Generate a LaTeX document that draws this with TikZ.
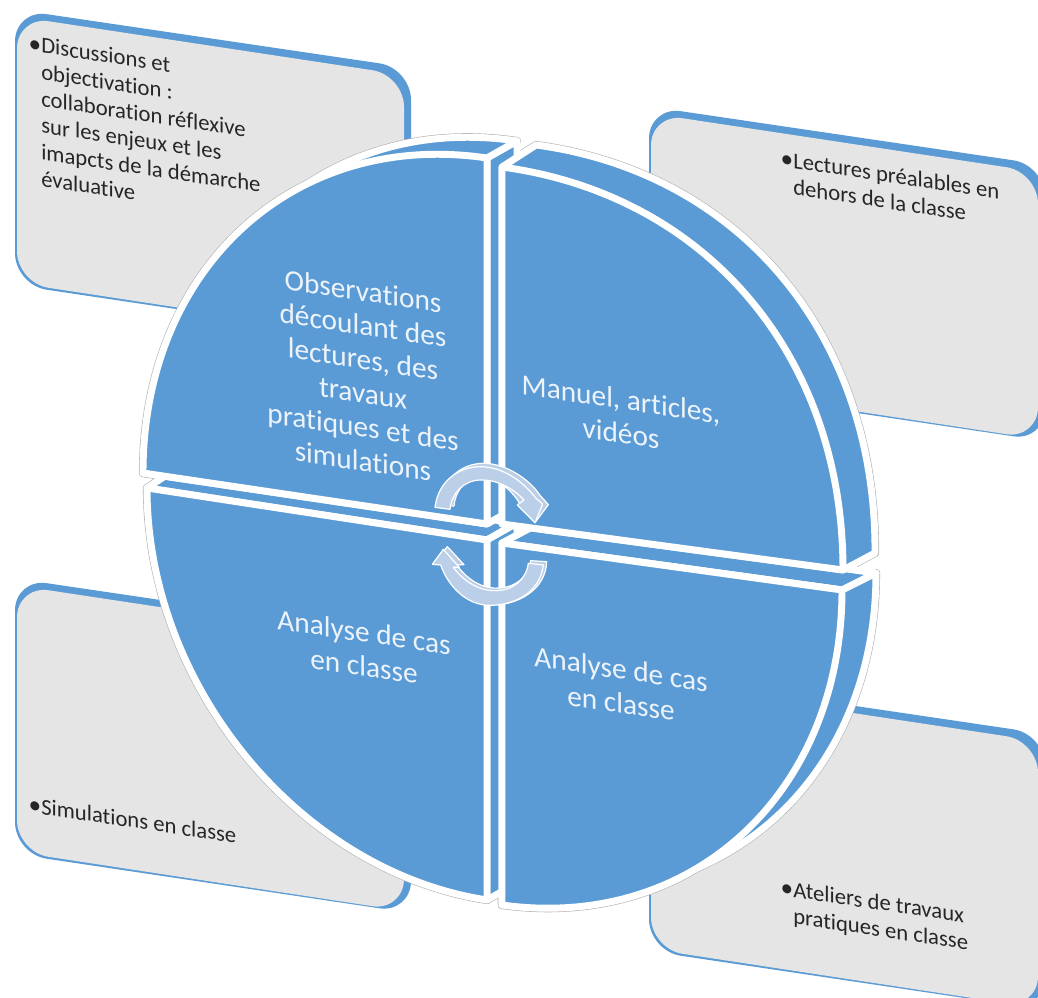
\documentclass[tikz,border=0pt]{standalone}
\usepackage{fontspec}
\setmainfont{Carlito}[RawFeature={-liga}]
\usetikzlibrary{calc}
\definecolor{sblue}{HTML}{5B9BD5}
\definecolor{sgray}{HTML}{E5E5E5}
\definecolor{sarrow}{HTML}{BBCFE9}
\definecolor{stext}{HTML}{EDF3FA}
\newcommand{\qarc}[4]{(#2) .. controls ($(#2)+#4*(#3)-#4*(#1)$) and ($(#3)+#4*(#2)-#4*(#1)$) .. (#3)}
\tikzset{
  boxback/.style={fill=sblue,draw=none,rounded corners=24},
  boxface/.style={fill=sgray,draw=none,rounded corners=24},
  halo/.style={draw=black!30,line width=6.1pt,line join=round},
  face/.style={fill=sblue,draw=white,line width=5.2pt,line join=round},
  wtext/.style={text=stext,font=\fontsize{22}{25.5}\selectfont,align=center,transform shape,yslant=-0.15,inner sep=0pt},
  ktext/.style={text=black!85,font=\fontsize{17}{20}\selectfont,align=left,transform shape,yslant=-0.15,inner sep=0pt,anchor=north west},
  arrowface/.style={fill=sarrow,draw=white,line width=0.9pt,line join=round}
}
\newcommand{\infobox}[2]{%
  \begin{scope}[shift={(#1,#2)}]
    \fill[boxback] (15,9.5) -- (411,68) -- (411,344) -- (15,285) -- cycle;
    \fill[boxface] (17,16.5) -- (404,75) -- (404,342) -- (17,283) -- cycle;
  \end{scope}}
\newcommand{\bul}{\llap{\fontsize{19}{19}\selectfont •}}
\begin{document}
\begin{tikzpicture}[x=0.75pt,y=-0.75pt]
\useasboundingbox (0,0) rectangle (1038,998);
\clip (0,0) rectangle (1038,998);
\fill[white] (0,0) rectangle (1038,998);
\infobox{0}{0}
\infobox{634}{97}
\infobox{0}{569}
\infobox{634}{666}
% front corners
\coordinate (TLc) at (487,524); \coordinate (TLa) at (487,158); \coordinate (TLb) at (143,473);
\coordinate (TRc) at (502,524); \coordinate (TRa) at (502,167); \coordinate (TRb) at (843,570);
\coordinate (BLc) at (487,540); \coordinate (BLa) at (147,488); \coordinate (BLb) at (487,900);
\coordinate (BRc) at (502,543); \coordinate (BRa) at (842,590); \coordinate (BRb) at (502,905);
% back corners
\coordinate (TLC) at (517,507); \coordinate (TLA) at (517,141); \coordinate (TLB) at (173,456);
\coordinate (TRC) at (534,507); \coordinate (TRA) at (536,145); \coordinate (TRB) at (875,553);
\coordinate (BLC) at (517,523); \coordinate (BLA) at (165,476); \coordinate (BLB) at (517,883);
\coordinate (BRC) at (534,526); \coordinate (BRA) at (876,573); \coordinate (BRB) at (534,888);
% halo pass
\foreach \q/\k in {TL/0.56,TR/0.6,BL/0.55,BR/0.56}{
  \draw[halo] (\q a) -- \qarc{\q C}{\q A}{\q B}{\k} -- (\q b) -- (\q c) -- cycle;
  \draw[halo] \qarc{\q c}{\q a}{\q b}{\k} -- (\q c) -- cycle;
}
% back pass
\draw[face] (BLa) -- (BLA) -- (BLC) -- (BLc) -- cycle;
\draw[face] (BLb) -- (BLB) -- (BLC) -- (BLc) -- cycle;
\foreach \q/\k in {BR/0.56,TL/0.56}{
  \draw[face] (\q a) -- (\q A) -- (\q C) -- (\q c) -- cycle;
  \draw[face] (\q a) -- \qarc{\q C}{\q A}{\q B}{\k} -- (\q b) -- (\q c) -- cycle;
}
\draw[face] (TRa) -- \qarc{TRC}{TRA}{TRB}{0.6} -- (TRb) -- (TRc) -- cycle;
% front pass
\foreach \q/\k in {TL/0.56,BL/0.55,BR/0.56,TR/0.6}{
  \draw[face] \qarc{\q c}{\q a}{\q b}{\k} -- (\q c) -- cycle;
}
% cycle arrows
\begin{scope}[shift={(400,430)},x=0.25pt,y=-0.25pt]
  \draw[arrowface] (117,226) .. controls (130,140) and (190,100) .. (250,100) .. controls (320,100) and (390,150) .. (420,196) -- (445,224) -- (405,278) -- (360,222) .. controls (330,170) and (280,140) .. (240,142) .. controls (190,145) and (165,190) .. (162,228) -- cycle;
  \draw[arrowface] (105,232) .. controls (115,150) and (180,110) .. (240,110) .. controls (310,110) and (370,155) .. (408,205) -- (428,222) -- (405,278) -- (352,225) -- (372,210) .. controls (335,170) and (285,148) .. (240,150) .. controls (190,152) and (155,190) .. (150,238) -- cycle;
  \draw[arrowface] (392,392) -- (440,395) .. controls (438,480) and (350,526) .. (280,524) .. controls (210,524) and (150,470) .. (130,404) -- (100,400) -- (142,350) -- (192,404) -- (170,405) .. controls (210,460) and (260,478) .. (300,474) .. controls (350,470) and (385,440) .. (392,392) -- cycle;
  \draw[arrowface] (385,400) -- (430,405) .. controls (420,490) and (340,526) .. (270,526) .. controls (200,526) and (145,470) .. (122,405) -- (97,403) -- (130,358) -- (178,412) -- (160,412) .. controls (200,465) and (250,484) .. (290,482) .. controls (340,480) and (378,450) .. (385,400) -- cycle;
\end{scope}
% disk labels
\node[wtext] (obs) at (363,376) {Observations\\découlant des\\lectures, des\\travaux\\pratiques et des\\simulations};
\node[wtext] (man) at (621,416) {Manuel, articles,\\vidéos};
\node[wtext] (bl) at (364,649) {Analyse de cas\\en classe};
\node[wtext] (br) at (621,686) {Analyse de cas\\en classe};
% box labels
\node[ktext] (t1) at (41,37) {\bul Discussions et\\objectivation :\\collaboration réflexive\\sur les enjeux et les\\imapcts de la démarche\\évaluative};
\node[ktext] (t2) at (793,152) {\bul Lectures préalables en\\dehors de la classe};
\node[ktext] (t3) at (41,798) {\bul Simulations en classe};
\node[ktext] (t4) at (793,881) {\bul Ateliers de travaux\\pratiques en classe};
\end{tikzpicture}
\end{document}
